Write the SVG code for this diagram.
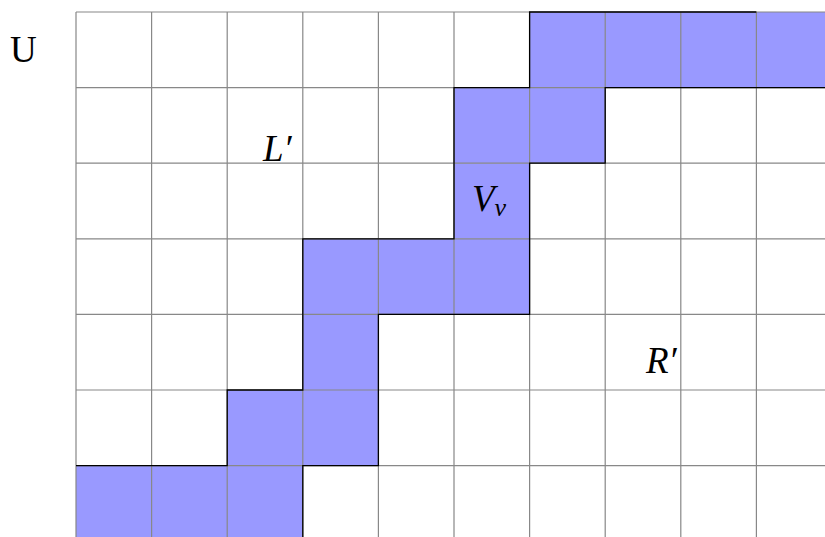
<svg xmlns="http://www.w3.org/2000/svg" width="825" height="537" viewBox="0 0 825 537">
<style>
.cell{fill:#9999ff;stroke:none}
.grid{stroke:#888;stroke-width:1.2;fill:none}
.outline{stroke:#000;stroke-width:1.3;fill:none;stroke-linejoin:miter}
.lbl{font-family:"Liberation Serif","DejaVu Serif",serif;font-size:37px;fill:#000}
.it{font-style:italic}
</style>
<rect x="0" y="0" width="825" height="537" fill="#fff"/>
<g id="shaded">
<rect class="cell" x="529.6" y="12" width="302.4" height="75.6"/>
<rect class="cell" x="454" y="87.6" width="151.2" height="75.6"/>
<rect class="cell" x="454" y="163.2" width="75.6" height="75.6"/>
<rect class="cell" x="302.8" y="238.8" width="226.8" height="75.6"/>
<rect class="cell" x="302.8" y="314.4" width="75.6" height="75.6"/>
<rect class="cell" x="227.2" y="390" width="151.2" height="75.6"/>
<rect class="cell" x="76" y="465.6" width="226.8" height="75.6"/>
</g>
<g id="grid" class="grid">
<path d="M76,12V537M151.6,12V537M227.2,12V537M302.8,12V537M378.4,12V537M454,12V537M529.6,12V537M605.2,12V537M680.8,12V537M756.4,12V537"/>
<path d="M76,12H825M76,87.6H825M76,163.2H825M76,238.8H825M76,314.4H825M76,390H825M76,465.6H825"/>
</g>
<g id="boundary" class="outline">
<path d="M76,465.6H227.2V390H302.8V238.8H454V87.6H529.6V12H756.4"/>
<path d="M825,87.6H605.2V163.2H529.6V314.4H378.4V465.6H302.8V537"/>
</g>
<g id="label-U"><text class="lbl" x="10" y="62">U</text></g>
<g id="label-L"><text class="lbl it" x="263" y="161">L′</text></g>
<g id="label-V"><text class="lbl it" x="472" y="211">V<tspan font-size="26" dy="5">ν</tspan></text></g>
<g id="label-R"><text class="lbl it" x="646" y="373">R′</text></g>
</svg>
